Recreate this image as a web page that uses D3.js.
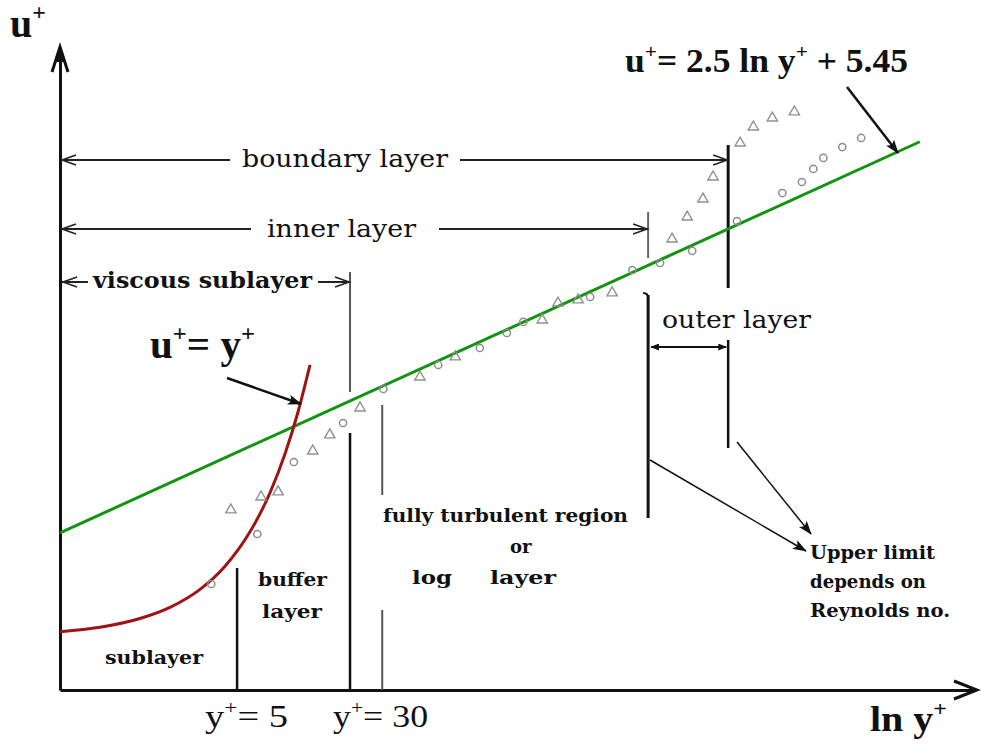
<!DOCTYPE html>
<html>
<head>
<meta charset="utf-8">
<script src="https://cdn.jsdelivr.net/npm/d3@7/dist/d3.min.js"></script>
<style>
  body { margin: 0; background: #fff; }
  text { white-space: pre; }
</style>
</head>
<body>
<svg id="chart" width="981" height="745"></svg>
<script>
// Measured velocity profile, open triangles: ln y+ and u+
const triLnY = [1.51, 1.99, 2.26, 2.81, 3.08, 3.56, 4.51, 5.07, 6.45, 6.70, 7.02, 7.56,
                8.51, 8.75, 9.00, 9.16, 9.59, 9.80, 10.10, 10.45];
const triU   = [4.45, 5.58, 6.02, 9.59, 10.99, 13.34, 16.04, 17.79, 21.01, 22.49, 22.76, 23.37,
                28.07, 29.99, 31.56, 33.48, 36.44, 37.84, 38.62, 39.15];

// Measured velocity profile, open circles: ln y+ and u+
const circLnY = [1.20, 1.93, 2.51, 3.29, 3.93, 4.80, 5.46, 5.89, 6.15, 7.21, 7.88, 8.32,
                 8.83, 9.54, 10.26, 10.57, 10.75, 10.91, 11.21, 11.51];
const circU   = [-2.01, 2.35, 8.63, 12.03, 15.00, 17.09, 18.57, 19.88, 20.84, 23.02, 25.37, 25.98,
                 27.03, 29.64, 32.08, 33.04, 34.18, 35.14, 36.09, 36.88];

// Viscous sublayer curve, sampled along ln y+
const wallLnY = [-1.20, -0.565, 0.069, 0.545, 1.021, 1.418, 1.814, 2.132, 2.370, 2.576, 2.766];
const wallU   = [-6.17, -5.78, -5.02, -4.05, -2.48, -0.46, 2.54, 5.95, 9.34, 12.99, 17.09];

// Log law u+ = 2.5 ln y+ + 5.45, drawn over this ln y+ span
const logSlope = 2.5;
const logIntercept = 5.45;
const logLawLnY = [-1.20, 12.44];

// Region limits in y+ and ln y+
const yPlusMarks = [5, 30];
const logLayerStartYPlus = 50;
const innerEdgeLnY = 8.13;
const outerEdgeLnY = 9.40;

const svg = d3.select("#chart");
svg.append("rect").attr("width", 981).attr("height", 745).attr("fill", "#fff");

const x = d3.scaleLinear().domain([-1.2, 13.3]).range([60, 974]);
const y = d3.scaleLinear().domain([-11.25, 44.55]).range([690, 50]);

const serif = "'DejaVu Serif', serif";
const times = "'Liberation Serif', 'Times New Roman', serif";
const ink = "#111";

// Filled arrowheads for pointer arrows
const defs = svg.append("defs");
defs.append("marker")
  .attr("id", "head").attr("viewBox", "0 0 14 10")
  .attr("markerWidth", 14).attr("markerHeight", 10)
  .attr("refX", 13).attr("refY", 5)
  .attr("markerUnits", "userSpaceOnUse").attr("orient", "auto")
  .append("path").attr("d", "M0,0 L14,5 L0,10 L3,5 Z").attr("fill", ink);
defs.append("marker")
  .attr("id", "smallHead").attr("viewBox", "0 0 10 8")
  .attr("markerWidth", 9).attr("markerHeight", 7)
  .attr("refX", 9).attr("refY", 4)
  .attr("markerUnits", "userSpaceOnUse").attr("orient", "auto-start-reverse")
  .append("path").attr("d", "M0,0 L10,4 L0,8 Z").attr("fill", ink);

// Axes without ticks
svg.append("g").attr("transform", `translate(0,${y.range()[0]})`)
  .call(d3.axisBottom(x).tickValues([]).tickSizeOuter(0))
  .call(g => g.select(".domain").attr("stroke", ink).attr("stroke-width", 3));
svg.append("g").attr("transform", `translate(${x.range()[0]},0)`)
  .call(d3.axisLeft(y).tickValues([]).tickSizeOuter(0))
  .call(g => g.select(".domain").attr("stroke", ink).attr("stroke-width", 3));

const x0 = x.range()[0], yBase = y.range()[0];
// axis arrowheads
svg.append("path").attr("d", `M${x0 - 8},72 L${x0},47 L${x0 + 8},72`)
  .attr("fill", "none").attr("stroke", ink).attr("stroke-width", 3);
svg.append("path").attr("d", `M${x0 - 4},62 L${x0},48 L${x0 + 4},62 Z`).attr("fill", ink);
const xr = x.range()[1];
svg.append("path").attr("d", `M${xr - 20},${yBase - 9} L${xr + 3},${yBase} L${xr - 20},${yBase + 9}`)
  .attr("fill", "none").attr("stroke", ink).attr("stroke-width", 3);

// Region dividers
function vline(xp, y1, y2, color, w) {
  svg.append("line").attr("x1", xp).attr("x2", xp).attr("y1", y1).attr("y2", y2)
    .attr("stroke", color).attr("stroke-width", w);
}
const x5 = x(Math.log(yPlusMarks[0]));
const x30 = x(Math.log(yPlusMarks[1]));
const x50 = x(Math.log(logLayerStartYPlus));
const xInner = x(innerEdgeLnY);
const xOuter = x(outerEdgeLnY);
vline(x5, 568, 690, ink, 2.5);
vline(x30, 272, 392, "#555", 2);
vline(x30, 433, 690, ink, 2.5);
vline(x50, 405, 495, "#555", 2);
vline(x50, 610, 690, "#555", 2);
vline(xInner, 212, 258, "#666", 2);
vline(xInner, 295, 518, ink, 3);
svg.append("path").attr("d", `M${xInner - 5},293 Q${xInner},293 ${xInner},298`)
  .attr("fill", "none").attr("stroke", ink).attr("stroke-width", 2);
vline(xOuter, 145, 288, ink, 3);
vline(xOuter, 340, 448, ink, 2.5);

// Span arrows with open heads
function openHead(xp, yp, dir) {
  svg.append("path")
    .attr("d", `M${xp + dir * 14},${yp - 5} L${xp},${yp} L${xp + dir * 14},${yp + 5}`)
    .attr("fill", "none").attr("stroke", "#222").attr("stroke-width", 1.6);
}
function span(yp, xa, xb, gapA, gapB) {
  svg.append("line").attr("x1", xa).attr("x2", gapA).attr("y1", yp).attr("y2", yp)
    .attr("stroke", "#222").attr("stroke-width", 2);
  svg.append("line").attr("x1", gapB).attr("x2", xb).attr("y1", yp).attr("y2", yp)
    .attr("stroke", "#222").attr("stroke-width", 2);
  openHead(xa + 1, yp, 1);
  openHead(xb - 1, yp, -1);
}
span(160, x0 + 1, xOuter, 230, 460);
span(229, x0 + 1, xInner, 251, 439);
span(282, x0 + 2, x30, 88, 318);

// outer layer span
svg.append("line").attr("x1", xInner + 3).attr("x2", xOuter - 2).attr("y1", 347).attr("y2", 347)
  .attr("stroke", ink).attr("stroke-width", 1.8)
  .attr("marker-start", "url(#smallHead)").attr("marker-end", "url(#smallHead)");

// Log law line
const line = d3.line().x(d => x(d[0])).y(d => y(d[1]));
svg.append("path")
  .datum(logLawLnY.map(L => [L, logSlope * L + logIntercept]))
  .attr("d", line).attr("fill", "none").attr("stroke", "#129412").attr("stroke-width", 3);

// Viscous sublayer curve
svg.append("path")
  .datum(d3.zip(wallLnY, wallU))
  .attr("d", line.curve(d3.curveMonotoneX))
  .attr("fill", "none").attr("stroke", "#9e1414").attr("stroke-width", 3);

// Measured points
svg.selectAll("path.tri").data(d3.zip(triLnY, triU)).join("path")
  .attr("class", "tri")
  .attr("d", d3.symbol(d3.symbolTriangle, 46))
  .attr("transform", d => `translate(${x(d[0])},${y(d[1])})`)
  .attr("fill", "none").attr("stroke", "#8b938b").attr("stroke-width", 1.4);
svg.selectAll("circle.circ").data(d3.zip(circLnY, circU)).join("circle")
  .attr("class", "circ")
  .attr("cx", d => x(d[0])).attr("cy", d => y(d[1])).attr("r", 3.6)
  .attr("fill", "none").attr("stroke", "#8d8d8d").attr("stroke-width", 1.5);

// Pointer arrows
function pointer(xa, ya, xb, yb, w) {
  svg.append("line").attr("x1", xa).attr("y1", ya).attr("x2", xb).attr("y2", yb)
    .attr("stroke", ink).attr("stroke-width", w).attr("marker-end", "url(#head)");
}
pointer(227, 378, 301, 404, 2.5);
pointer(847, 87, 898, 153, 2.5);
pointer(737, 442, 811, 534, 1.5);
pointer(650, 460, 806, 551, 1.5);

// Text helpers
function label(xp, yp, str, size, weight, family, len) {
  const t = svg.append("text").attr("x", xp).attr("y", yp).text(str)
    .attr("font-family", family).attr("font-size", size).attr("font-weight", weight)
    .attr("fill", ink);
  if (len) t.attr("textLength", len).attr("lengthAdjust", "spacingAndGlyphs");
  return t;
}
function mathLabel(xp, yp, parts, size, weight, len) {
  const t = svg.append("text").attr("x", xp).attr("y", yp)
    .attr("font-family", times).attr("font-size", size).attr("font-weight", weight)
    .attr("fill", ink);
  let raised = false;
  parts.forEach(p => {
    const s = t.append("tspan").text(p.t);
    if (p.sup && !raised) { s.attr("dy", -0.42 * size).attr("font-size", 0.6 * size); raised = true; }
    else if (!p.sup && raised) { s.attr("dy", 0.42 * size); raised = false; }
    else if (p.sup) s.attr("font-size", 0.6 * size);
  });
  if (len) t.attr("textLength", len).attr("lengthAdjust", "spacingAndGlyphs");
  return t;
}

// Axis titles
mathLabel(10, 37, [{t: "u"}, {t: "+", sup: true}], 40, "bold");
mathLabel(870, 731, [{t: "ln y"}, {t: "+", sup: true}], 36, "bold", 77);

// Equations
mathLabel(625, 72, [{t: "u"}, {t: "+", sup: true}, {t: "= 2.5 ln y"}, {t: "+", sup: true}, {t: " + 5.45"}], 33, "bold", 283);
mathLabel(150, 358, [{t: "u"}, {t: "+", sup: true}, {t: "= y"}, {t: "+", sup: true}], 40, "bold", 105);

// y+ marks under the axis
mathLabel(x5 - 32, 727, [{t: "y"}, {t: "+", sup: true}, {t: "= 5"}], 32, "normal", 83);
mathLabel(x30 - 17, 727, [{t: "y"}, {t: "+", sup: true}, {t: "= 30"}], 32, "normal", 95);

// Region names
label(242, 167, "boundary layer", 25, "normal", serif, 206);
label(267, 237, "inner layer", 25, "normal", serif, 149);
label(93, 288, "viscous sublayer", 23, "bold", serif, 219);
label(662, 328, "outer layer", 25, "normal", serif, 149);
label(383, 522, "fully turbulent region", 18, "bold", serif, 245);
label(510, 553, "or", 18, "bold", serif);
label(412, 584, "log", 18, "bold", serif, 40);
label(490, 584, "layer", 18, "bold", serif, 66);
label(258, 586, "buffer", 19, "bold", serif, 69);
label(262, 618, "layer", 19, "bold", serif, 60);
label(105, 664, "sublayer", 19, "bold", serif, 98);
label(810, 559, "Upper limit", 18, "bold", serif, 125);
label(810, 588, "depends on", 18, "bold", serif, 116);
label(810, 617, "Reynolds no.", 18, "bold", serif, 140);
</script>
</body>
</html>
